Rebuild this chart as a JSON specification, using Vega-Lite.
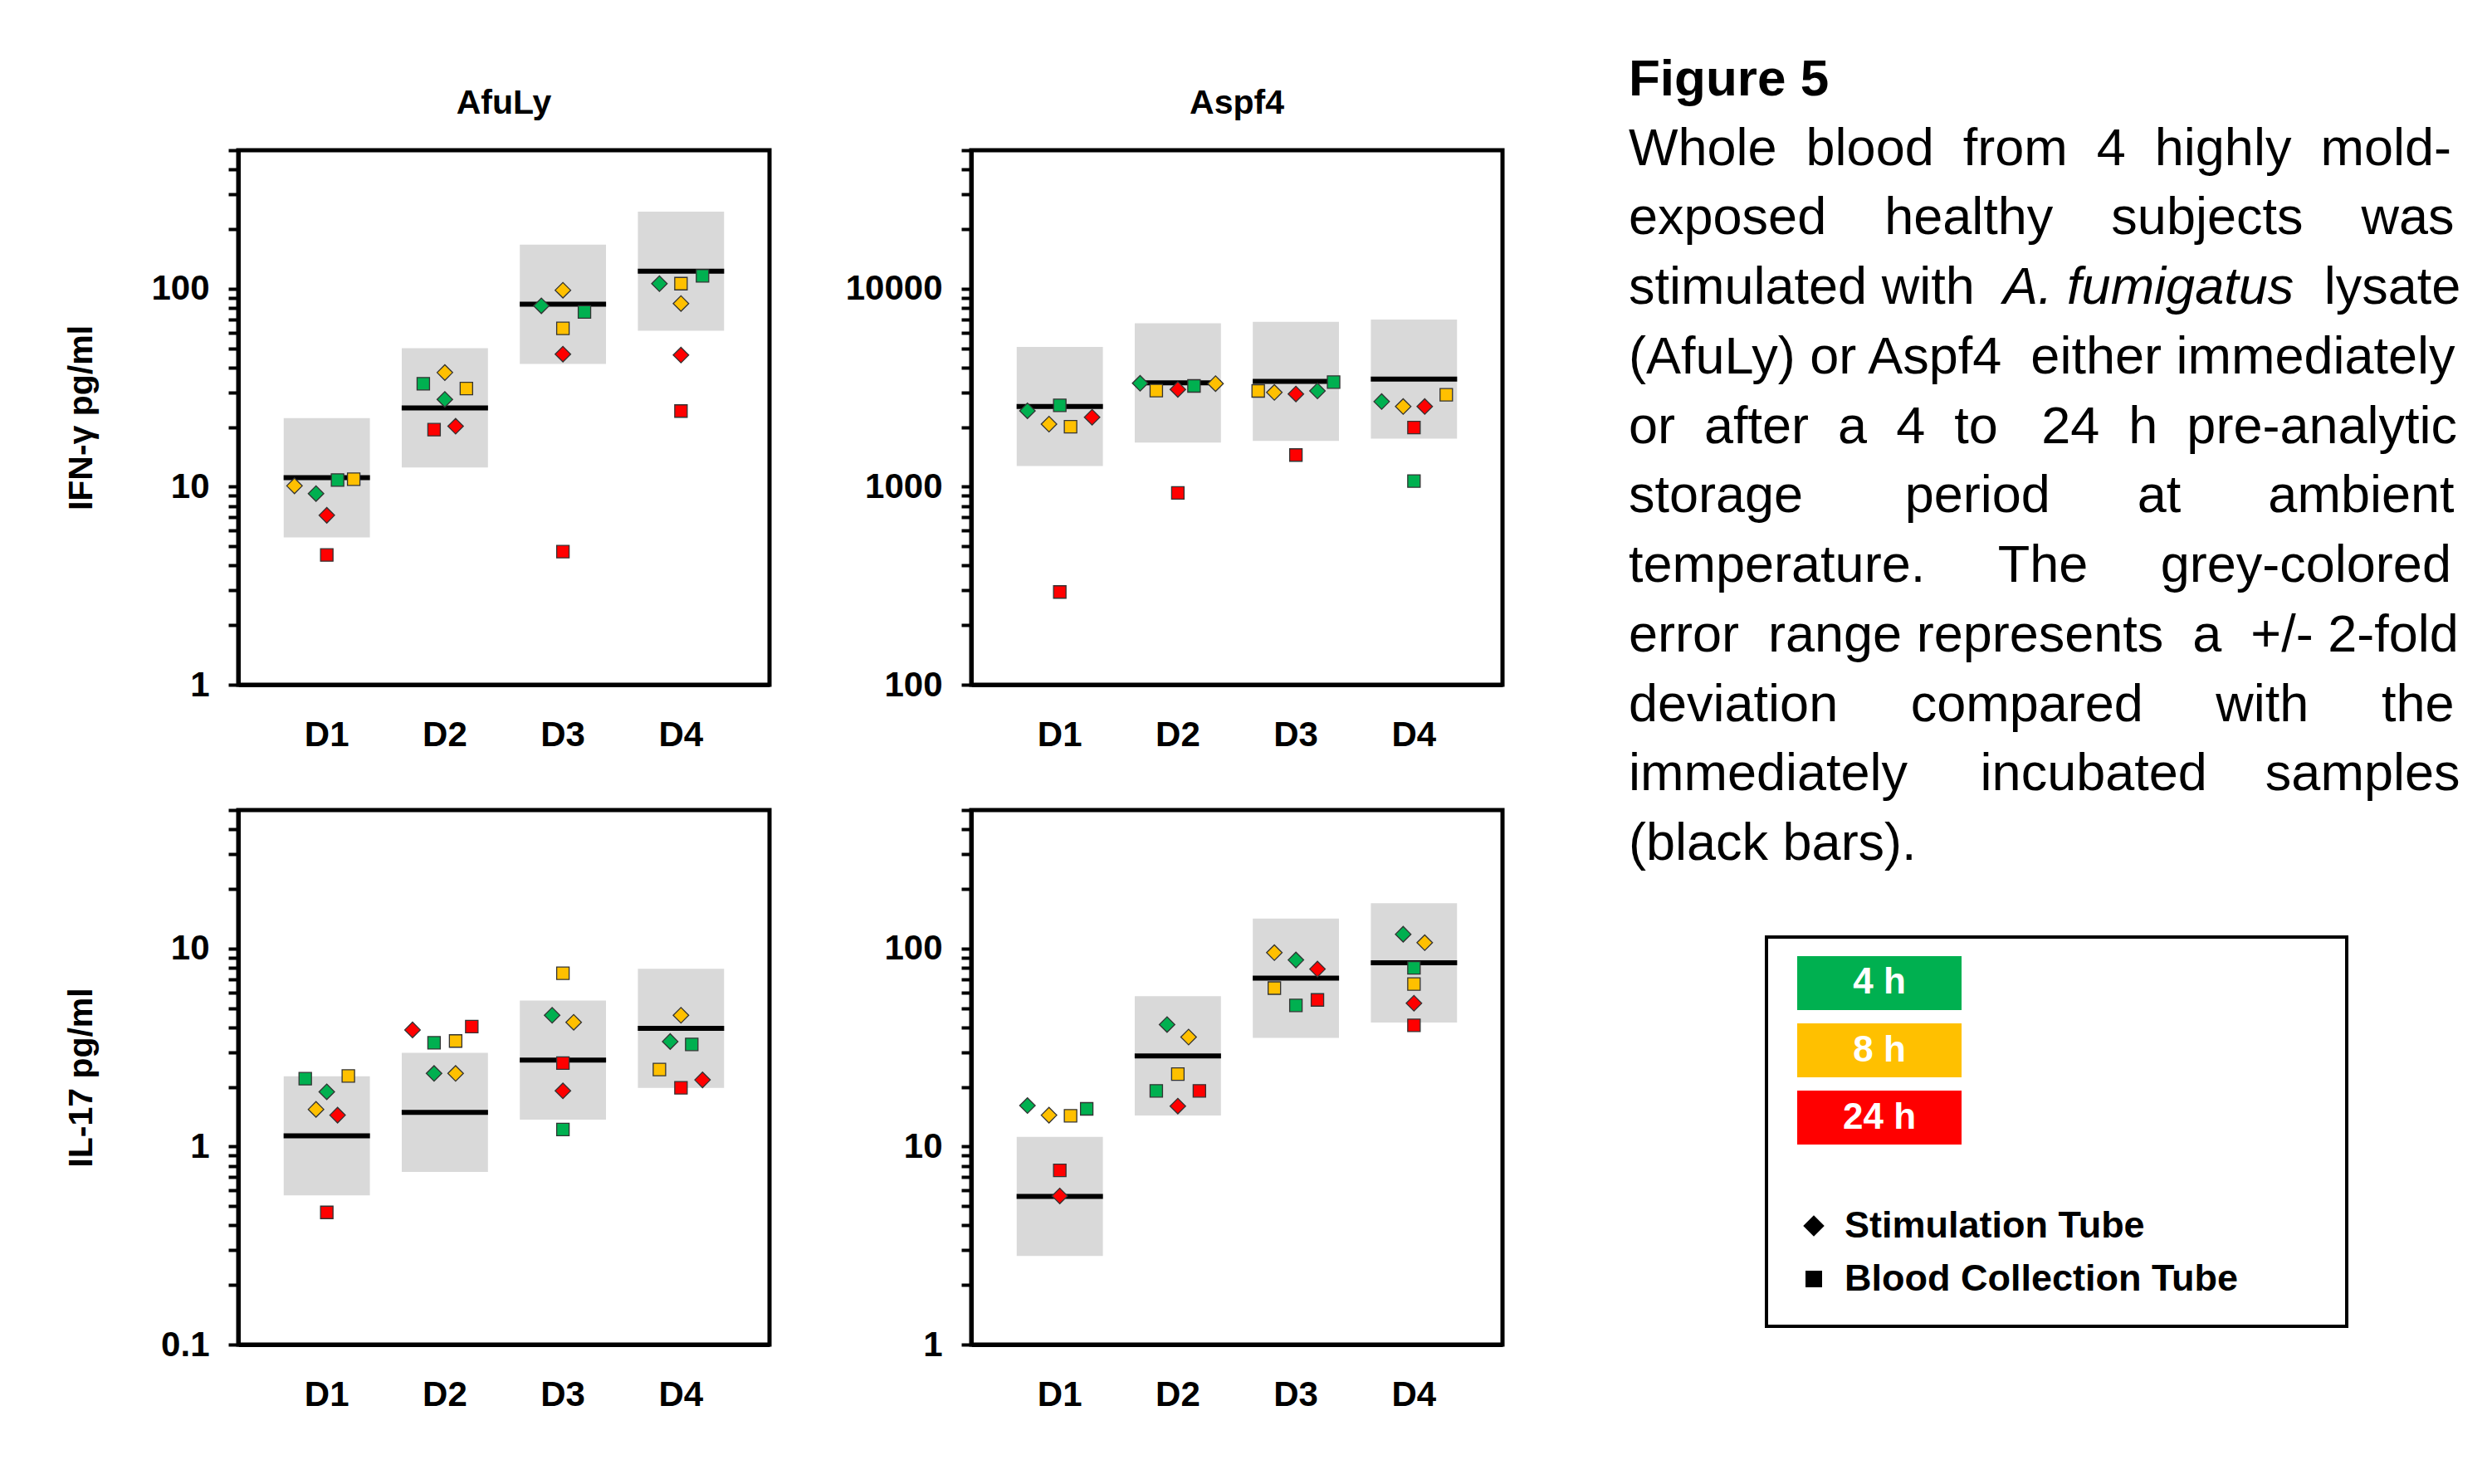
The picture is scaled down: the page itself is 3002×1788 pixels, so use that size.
{
  "$schema": "https://vega.github.io/schema/vega-lite/v6.json",
  "background": "white",
  "padding": {"left": 74, "top": 65, "right": 10, "bottom": 10},
  "config": {
    "font": "Liberation Sans",
    "view": {"stroke": "black", "strokeWidth": 5},
    "axis": {"domainColor": "black", "domainWidth": 5, "tickColor": "black", "labelColor": "black", "titleColor": "black", "grid": false, "labelFont": "Liberation Sans", "titleFont": "Liberation Sans"},
    "title": {"font": "Liberation Sans", "color": "black"}
  },
  "datasets": {
    "points": [
      {"antigen":"AfuLy","cytokine":"IFN","donor":"D1","time":"8 h","tube":"Stimulation Tube","value":10.1,"slot":-6},
      {"antigen":"AfuLy","cytokine":"IFN","donor":"D1","time":"4 h","tube":"Stimulation Tube","value":9.23,"slot":-2},
      {"antigen":"AfuLy","cytokine":"IFN","donor":"D1","time":"24 h","tube":"Stimulation Tube","value":7.17,"slot":0},
      {"antigen":"AfuLy","cytokine":"IFN","donor":"D1","time":"24 h","tube":"Blood Collection Tube","value":4.52,"slot":0},
      {"antigen":"AfuLy","cytokine":"IFN","donor":"D1","time":"4 h","tube":"Blood Collection Tube","value":10.8,"slot":2},
      {"antigen":"AfuLy","cytokine":"IFN","donor":"D1","time":"8 h","tube":"Blood Collection Tube","value":10.9,"slot":5},
      {"antigen":"AfuLy","cytokine":"IFN","donor":"D2","time":"4 h","tube":"Blood Collection Tube","value":33.1,"slot":-4},
      {"antigen":"AfuLy","cytokine":"IFN","donor":"D2","time":"8 h","tube":"Stimulation Tube","value":37.7,"slot":0},
      {"antigen":"AfuLy","cytokine":"IFN","donor":"D2","time":"8 h","tube":"Blood Collection Tube","value":31.3,"slot":4},
      {"antigen":"AfuLy","cytokine":"IFN","donor":"D2","time":"4 h","tube":"Stimulation Tube","value":27.6,"slot":0},
      {"antigen":"AfuLy","cytokine":"IFN","donor":"D2","time":"24 h","tube":"Blood Collection Tube","value":19.4,"slot":-2},
      {"antigen":"AfuLy","cytokine":"IFN","donor":"D2","time":"24 h","tube":"Stimulation Tube","value":20.2,"slot":2},
      {"antigen":"AfuLy","cytokine":"IFN","donor":"D3","time":"8 h","tube":"Stimulation Tube","value":98.2,"slot":0},
      {"antigen":"AfuLy","cytokine":"IFN","donor":"D3","time":"4 h","tube":"Stimulation Tube","value":81.9,"slot":-4},
      {"antigen":"AfuLy","cytokine":"IFN","donor":"D3","time":"4 h","tube":"Blood Collection Tube","value":76.3,"slot":4},
      {"antigen":"AfuLy","cytokine":"IFN","donor":"D3","time":"8 h","tube":"Blood Collection Tube","value":63.0,"slot":0},
      {"antigen":"AfuLy","cytokine":"IFN","donor":"D3","time":"24 h","tube":"Stimulation Tube","value":46.7,"slot":0},
      {"antigen":"AfuLy","cytokine":"IFN","donor":"D3","time":"24 h","tube":"Blood Collection Tube","value":4.70,"slot":0},
      {"antigen":"AfuLy","cytokine":"IFN","donor":"D4","time":"4 h","tube":"Stimulation Tube","value":106,"slot":-4},
      {"antigen":"AfuLy","cytokine":"IFN","donor":"D4","time":"8 h","tube":"Blood Collection Tube","value":106,"slot":0},
      {"antigen":"AfuLy","cytokine":"IFN","donor":"D4","time":"4 h","tube":"Blood Collection Tube","value":116,"slot":4},
      {"antigen":"AfuLy","cytokine":"IFN","donor":"D4","time":"8 h","tube":"Stimulation Tube","value":84.1,"slot":0},
      {"antigen":"AfuLy","cytokine":"IFN","donor":"D4","time":"24 h","tube":"Stimulation Tube","value":46.2,"slot":0},
      {"antigen":"AfuLy","cytokine":"IFN","donor":"D4","time":"24 h","tube":"Blood Collection Tube","value":24.1,"slot":0},

      {"antigen":"Aspf4","cytokine":"IFN","donor":"D1","time":"4 h","tube":"Stimulation Tube","value":2417,"slot":-6},
      {"antigen":"Aspf4","cytokine":"IFN","donor":"D1","time":"4 h","tube":"Blood Collection Tube","value":2573,"slot":0},
      {"antigen":"Aspf4","cytokine":"IFN","donor":"D1","time":"8 h","tube":"Stimulation Tube","value":2070,"slot":-2},
      {"antigen":"Aspf4","cytokine":"IFN","donor":"D1","time":"8 h","tube":"Blood Collection Tube","value":2007,"slot":2},
      {"antigen":"Aspf4","cytokine":"IFN","donor":"D1","time":"24 h","tube":"Stimulation Tube","value":2243,"slot":6},
      {"antigen":"Aspf4","cytokine":"IFN","donor":"D1","time":"24 h","tube":"Blood Collection Tube","value":294,"slot":0},
      {"antigen":"Aspf4","cytokine":"IFN","donor":"D2","time":"4 h","tube":"Stimulation Tube","value":3327,"slot":-7},
      {"antigen":"Aspf4","cytokine":"IFN","donor":"D2","time":"8 h","tube":"Blood Collection Tube","value":3059,"slot":-4},
      {"antigen":"Aspf4","cytokine":"IFN","donor":"D2","time":"24 h","tube":"Stimulation Tube","value":3098,"slot":0},
      {"antigen":"Aspf4","cytokine":"IFN","donor":"D2","time":"4 h","tube":"Blood Collection Tube","value":3226,"slot":3},
      {"antigen":"Aspf4","cytokine":"IFN","donor":"D2","time":"8 h","tube":"Stimulation Tube","value":3314,"slot":7},
      {"antigen":"Aspf4","cytokine":"IFN","donor":"D2","time":"24 h","tube":"Blood Collection Tube","value":931,"slot":0},
      {"antigen":"Aspf4","cytokine":"IFN","donor":"D3","time":"8 h","tube":"Blood Collection Tube","value":3045,"slot":-7},
      {"antigen":"Aspf4","cytokine":"IFN","donor":"D3","time":"8 h","tube":"Stimulation Tube","value":2992,"slot":-4},
      {"antigen":"Aspf4","cytokine":"IFN","donor":"D3","time":"24 h","tube":"Stimulation Tube","value":2939,"slot":0},
      {"antigen":"Aspf4","cytokine":"IFN","donor":"D3","time":"4 h","tube":"Stimulation Tube","value":3045,"slot":4},
      {"antigen":"Aspf4","cytokine":"IFN","donor":"D3","time":"4 h","tube":"Blood Collection Tube","value":3373,"slot":7},
      {"antigen":"Aspf4","cytokine":"IFN","donor":"D3","time":"24 h","tube":"Blood Collection Tube","value":1445,"slot":0},
      {"antigen":"Aspf4","cytokine":"IFN","donor":"D4","time":"4 h","tube":"Stimulation Tube","value":2690,"slot":-6},
      {"antigen":"Aspf4","cytokine":"IFN","donor":"D4","time":"8 h","tube":"Stimulation Tube","value":2539,"slot":-2},
      {"antigen":"Aspf4","cytokine":"IFN","donor":"D4","time":"24 h","tube":"Stimulation Tube","value":2539,"slot":2},
      {"antigen":"Aspf4","cytokine":"IFN","donor":"D4","time":"8 h","tube":"Blood Collection Tube","value":2912,"slot":6},
      {"antigen":"Aspf4","cytokine":"IFN","donor":"D4","time":"24 h","tube":"Blood Collection Tube","value":1990,"slot":0},
      {"antigen":"Aspf4","cytokine":"IFN","donor":"D4","time":"4 h","tube":"Blood Collection Tube","value":1068,"slot":0},

      {"antigen":"AfuLy","cytokine":"IL17","donor":"D1","time":"4 h","tube":"Blood Collection Tube","value":2.20,"slot":-4},
      {"antigen":"AfuLy","cytokine":"IL17","donor":"D1","time":"8 h","tube":"Blood Collection Tube","value":2.27,"slot":4},
      {"antigen":"AfuLy","cytokine":"IL17","donor":"D1","time":"4 h","tube":"Stimulation Tube","value":1.89,"slot":0},
      {"antigen":"AfuLy","cytokine":"IL17","donor":"D1","time":"8 h","tube":"Stimulation Tube","value":1.54,"slot":-2},
      {"antigen":"AfuLy","cytokine":"IL17","donor":"D1","time":"24 h","tube":"Stimulation Tube","value":1.44,"slot":2},
      {"antigen":"AfuLy","cytokine":"IL17","donor":"D1","time":"24 h","tube":"Blood Collection Tube","value":0.465,"slot":0},
      {"antigen":"AfuLy","cytokine":"IL17","donor":"D2","time":"24 h","tube":"Stimulation Tube","value":3.88,"slot":-6},
      {"antigen":"AfuLy","cytokine":"IL17","donor":"D2","time":"4 h","tube":"Blood Collection Tube","value":3.34,"slot":-2},
      {"antigen":"AfuLy","cytokine":"IL17","donor":"D2","time":"8 h","tube":"Blood Collection Tube","value":3.41,"slot":2},
      {"antigen":"AfuLy","cytokine":"IL17","donor":"D2","time":"24 h","tube":"Blood Collection Tube","value":4.03,"slot":5},
      {"antigen":"AfuLy","cytokine":"IL17","donor":"D2","time":"4 h","tube":"Stimulation Tube","value":2.34,"slot":-2},
      {"antigen":"AfuLy","cytokine":"IL17","donor":"D2","time":"8 h","tube":"Stimulation Tube","value":2.34,"slot":2},
      {"antigen":"AfuLy","cytokine":"IL17","donor":"D3","time":"8 h","tube":"Blood Collection Tube","value":7.50,"slot":0},
      {"antigen":"AfuLy","cytokine":"IL17","donor":"D3","time":"4 h","tube":"Stimulation Tube","value":4.60,"slot":-2},
      {"antigen":"AfuLy","cytokine":"IL17","donor":"D3","time":"8 h","tube":"Stimulation Tube","value":4.24,"slot":2},
      {"antigen":"AfuLy","cytokine":"IL17","donor":"D3","time":"24 h","tube":"Blood Collection Tube","value":2.64,"slot":0},
      {"antigen":"AfuLy","cytokine":"IL17","donor":"D3","time":"24 h","tube":"Stimulation Tube","value":1.91,"slot":0},
      {"antigen":"AfuLy","cytokine":"IL17","donor":"D3","time":"4 h","tube":"Blood Collection Tube","value":1.22,"slot":0},
      {"antigen":"AfuLy","cytokine":"IL17","donor":"D4","time":"8 h","tube":"Stimulation Tube","value":4.60,"slot":0},
      {"antigen":"AfuLy","cytokine":"IL17","donor":"D4","time":"4 h","tube":"Stimulation Tube","value":3.39,"slot":-2},
      {"antigen":"AfuLy","cytokine":"IL17","donor":"D4","time":"4 h","tube":"Blood Collection Tube","value":3.28,"slot":2},
      {"antigen":"AfuLy","cytokine":"IL17","donor":"D4","time":"8 h","tube":"Blood Collection Tube","value":2.45,"slot":-4},
      {"antigen":"AfuLy","cytokine":"IL17","donor":"D4","time":"24 h","tube":"Blood Collection Tube","value":1.98,"slot":0},
      {"antigen":"AfuLy","cytokine":"IL17","donor":"D4","time":"24 h","tube":"Stimulation Tube","value":2.17,"slot":4},

      {"antigen":"Aspf4","cytokine":"IL17","donor":"D1","time":"4 h","tube":"Stimulation Tube","value":16.1,"slot":-6},
      {"antigen":"Aspf4","cytokine":"IL17","donor":"D1","time":"8 h","tube":"Stimulation Tube","value":14.4,"slot":-2},
      {"antigen":"Aspf4","cytokine":"IL17","donor":"D1","time":"8 h","tube":"Blood Collection Tube","value":14.3,"slot":2},
      {"antigen":"Aspf4","cytokine":"IL17","donor":"D1","time":"4 h","tube":"Blood Collection Tube","value":15.5,"slot":5},
      {"antigen":"Aspf4","cytokine":"IL17","donor":"D1","time":"24 h","tube":"Blood Collection Tube","value":7.58,"slot":0},
      {"antigen":"Aspf4","cytokine":"IL17","donor":"D1","time":"24 h","tube":"Stimulation Tube","value":5.63,"slot":0},
      {"antigen":"Aspf4","cytokine":"IL17","donor":"D2","time":"4 h","tube":"Stimulation Tube","value":41.3,"slot":-2},
      {"antigen":"Aspf4","cytokine":"IL17","donor":"D2","time":"8 h","tube":"Stimulation Tube","value":35.7,"slot":2},
      {"antigen":"Aspf4","cytokine":"IL17","donor":"D2","time":"8 h","tube":"Blood Collection Tube","value":23.2,"slot":0},
      {"antigen":"Aspf4","cytokine":"IL17","donor":"D2","time":"4 h","tube":"Blood Collection Tube","value":19.1,"slot":-4},
      {"antigen":"Aspf4","cytokine":"IL17","donor":"D2","time":"24 h","tube":"Blood Collection Tube","value":19.1,"slot":4},
      {"antigen":"Aspf4","cytokine":"IL17","donor":"D2","time":"24 h","tube":"Stimulation Tube","value":16.0,"slot":0},
      {"antigen":"Aspf4","cytokine":"IL17","donor":"D3","time":"8 h","tube":"Stimulation Tube","value":95.3,"slot":-4},
      {"antigen":"Aspf4","cytokine":"IL17","donor":"D3","time":"4 h","tube":"Stimulation Tube","value":87.5,"slot":0},
      {"antigen":"Aspf4","cytokine":"IL17","donor":"D3","time":"24 h","tube":"Stimulation Tube","value":78.7,"slot":4},
      {"antigen":"Aspf4","cytokine":"IL17","donor":"D3","time":"8 h","tube":"Blood Collection Tube","value":63.1,"slot":-4},
      {"antigen":"Aspf4","cytokine":"IL17","donor":"D3","time":"4 h","tube":"Blood Collection Tube","value":51.6,"slot":0},
      {"antigen":"Aspf4","cytokine":"IL17","donor":"D3","time":"24 h","tube":"Blood Collection Tube","value":55.0,"slot":4},
      {"antigen":"Aspf4","cytokine":"IL17","donor":"D4","time":"4 h","tube":"Stimulation Tube","value":118,"slot":-2},
      {"antigen":"Aspf4","cytokine":"IL17","donor":"D4","time":"8 h","tube":"Stimulation Tube","value":107,"slot":2},
      {"antigen":"Aspf4","cytokine":"IL17","donor":"D4","time":"4 h","tube":"Blood Collection Tube","value":79.9,"slot":0},
      {"antigen":"Aspf4","cytokine":"IL17","donor":"D4","time":"8 h","tube":"Blood Collection Tube","value":66.2,"slot":0},
      {"antigen":"Aspf4","cytokine":"IL17","donor":"D4","time":"24 h","tube":"Stimulation Tube","value":52.9,"slot":0},
      {"antigen":"Aspf4","cytokine":"IL17","donor":"D4","time":"24 h","tube":"Blood Collection Tube","value":40.9,"slot":0}
    ],
    "refs": [
      {"antigen":"AfuLy","cytokine":"IFN","donor":"D1","ref":11.1,"low":5.55,"high":22.2},
      {"antigen":"AfuLy","cytokine":"IFN","donor":"D2","ref":25.0,"low":12.5,"high":50.0},
      {"antigen":"AfuLy","cytokine":"IFN","donor":"D3","ref":83.4,"low":41.7,"high":166.8},
      {"antigen":"AfuLy","cytokine":"IFN","donor":"D4","ref":122.6,"low":61.3,"high":245},
      {"antigen":"Aspf4","cytokine":"IFN","donor":"D1","ref":2539,"low":1270,"high":5078},
      {"antigen":"Aspf4","cytokine":"IFN","donor":"D2","ref":3342,"low":1671,"high":6684},
      {"antigen":"Aspf4","cytokine":"IFN","donor":"D3","ref":3403,"low":1702,"high":6806},
      {"antigen":"Aspf4","cytokine":"IFN","donor":"D4","ref":3494,"low":1747,"high":6988},
      {"antigen":"AfuLy","cytokine":"IL17","donor":"D1","ref":1.132,"low":0.566,"high":2.264},
      {"antigen":"AfuLy","cytokine":"IL17","donor":"D2","ref":1.488,"low":0.744,"high":2.976},
      {"antigen":"AfuLy","cytokine":"IL17","donor":"D3","ref":2.733,"low":1.366,"high":5.466},
      {"antigen":"AfuLy","cytokine":"IL17","donor":"D4","ref":3.95,"low":1.975,"high":7.9},
      {"antigen":"Aspf4","cytokine":"IL17","donor":"D1","ref":5.60,"low":2.80,"high":11.2},
      {"antigen":"Aspf4","cytokine":"IL17","donor":"D2","ref":28.7,"low":14.35,"high":57.4},
      {"antigen":"Aspf4","cytokine":"IL17","donor":"D3","ref":70.8,"low":35.4,"high":141.6},
      {"antigen":"Aspf4","cytokine":"IL17","donor":"D4","ref":84.6,"low":42.3,"high":169.2}
    ],
    "caption": [
      {"line":0,"col":0,"part":"head","text":"Figure 5"},
      {"line":1,"col":0,"part":"body","text":"Whole\u00a0\u00a0blood\u00a0\u00a0from\u00a0\u00a04\u00a0\u00a0highly\u00a0\u00a0mold-"},
      {"line":2,"col":0,"part":"body","text":"exposed\u00a0\u00a0\u00a0\u00a0healthy\u00a0\u00a0\u00a0\u00a0subjects\u00a0\u00a0\u00a0\u00a0was"},
      {"line":3,"col":0,"part":"body","text":"stimulated with"},
      {"line":3,"col":7,"part":"italic","text":"A. fumigatus"},
      {"line":3,"col":13,"part":"body","text":"lysate"},
      {"line":4,"col":0,"part":"body","text":"(AfuLy) or Aspf4\u00a0\u00a0either immediately"},
      {"line":5,"col":0,"part":"body","text":"or\u00a0\u00a0after\u00a0\u00a0a\u00a0\u00a04\u00a0\u00a0to\u00a0\u00a0\u00a024\u00a0\u00a0h\u00a0\u00a0pre-analytic"},
      {"line":6,"col":0,"part":"body","text":"storage\u00a0\u00a0\u00a0\u00a0\u00a0\u00a0\u00a0period\u00a0\u00a0\u00a0\u00a0\u00a0\u00a0at\u00a0\u00a0\u00a0\u00a0\u00a0\u00a0ambient"},
      {"line":7,"col":0,"part":"body","text":"temperature.\u00a0\u00a0\u00a0\u00a0\u00a0The\u00a0\u00a0\u00a0\u00a0\u00a0grey-colored"},
      {"line":8,"col":0,"part":"body","text":"error\u00a0\u00a0range represents\u00a0\u00a0a\u00a0\u00a0+/- 2-fold"},
      {"line":9,"col":0,"part":"body","text":"deviation\u00a0\u00a0\u00a0\u00a0\u00a0compared\u00a0\u00a0\u00a0\u00a0\u00a0with\u00a0\u00a0\u00a0\u00a0\u00a0the"},
      {"line":10,"col":0,"part":"body","text":"immediately\u00a0\u00a0\u00a0\u00a0\u00a0incubated\u00a0\u00a0\u00a0\u00a0samples"},
      {"line":11,"col":0,"part":"body","text":"(black bars)."}
    ],
    "legendTimes": [{"time":"4 h"},{"time":"8 h"},{"time":"24 h"}],
    "legendTubes": [{"tube":"Stimulation Tube"},{"tube":"Blood Collection Tube"}]
  },
  "hconcat": [
    {
      "concat": [
        {
          "width": 640, "height": 644,
          "title": {"text": "AfuLy", "fontSize": 41, "fontWeight": "bold", "baseline": "alphabetic", "offset": 1, "frame": "group"},
          "resolve": {"scale": {"xOffset": "independent"}},
          "layer": [
            {"data": {"name": "refs"}, "transform": [{"filter": "datum.antigen === 'AfuLy' && datum.cytokine === 'IFN'"}],
             "mark": {"type": "bar", "color": "#D9D9D9"},
             "encoding": {
               "x": {"field": "donor", "type": "nominal", "scale": {"domain": ["D1","D2","D3","D4"], "paddingInner": 0.27, "paddingOuter": 0.385},
                     "axis": {"title": null, "ticks": false, "tickSize": 0, "labelAngle": 0, "labelFontSize": 42, "labelFontWeight": "bold", "labelPadding": 40}},
               "y": {"field": "low", "type": "quantitative", "scale": {"type": "log", "domain": [1, 500], "nice": false},
                     "axis": {"values": [1,2,3,4,5,6,7,8,9,10,20,30,40,50,60,70,80,90,100,200,300,400,500],
                              "labelExpr": "indexof([0.1,1,10,100,1000,10000], datum.value) >= 0 ? format(datum.value, '~g') : ''",
                              "tickSize": 12, "tickWidth": 4, "labelFontSize": 42, "labelFontWeight": "bold", "labelPadding": 23,
                              "title": "IFN-γ pg/ml", "titleFontSize": 41, "titleFontWeight": "bold", "titleX": -177, "titleY": 322, "titleAngle": -90, "titleBaseline": "alphabetic", "titleAlign": "center"}},
               "y2": {"field": "high"}
             }},
            {"data": {"name": "refs"}, "transform": [{"filter": "datum.antigen === 'AfuLy' && datum.cytokine === 'IFN'"}],
             "mark": {"type": "tick", "color": "black", "thickness": 6, "size": 104, "opacity": 1},
             "encoding": {"x": {"field": "donor", "type": "nominal"}, "y": {"field": "ref", "type": "quantitative"}}},
            {"data": {"name": "points"}, "transform": [{"filter": "datum.antigen === 'AfuLy' && datum.cytokine === 'IFN' && datum.tube === 'Stimulation Tube'"}],
             "mark": {"type": "point", "shape": "diamond", "size": 350, "filled": true, "stroke": "#333333", "strokeWidth": 1.3, "opacity": 1},
             "encoding": {"x": {"field": "donor", "type": "nominal"},
               "xOffset": {"field": "slot", "type": "ordinal", "scale": {"domain": [-8,-7,-6,-5,-4,-3,-2,-1,0,1,2,3,4,5,6,7,8], "paddingInner": 0, "paddingOuter": 0}},
               "y": {"field": "value", "type": "quantitative"},
               "color": {"field": "time", "type": "nominal", "scale": {"domain": ["4 h","8 h","24 h"], "range": ["#00B050","#FFC000","#FF0000"]}, "legend": null}}},
            {"data": {"name": "points"}, "transform": [{"filter": "datum.antigen === 'AfuLy' && datum.cytokine === 'IFN' && datum.tube === 'Blood Collection Tube'"}],
             "mark": {"type": "point", "shape": "square", "size": 225, "filled": true, "stroke": "#333333", "strokeWidth": 1.3, "opacity": 1},
             "encoding": {"x": {"field": "donor", "type": "nominal"},
               "xOffset": {"field": "slot", "type": "ordinal", "scale": {"domain": [-8,-7,-6,-5,-4,-3,-2,-1,0,1,2,3,4,5,6,7,8], "paddingInner": 0, "paddingOuter": 0}},
               "y": {"field": "value", "type": "quantitative"},
               "color": {"field": "time", "type": "nominal", "scale": {"domain": ["4 h","8 h","24 h"], "range": ["#00B050","#FFC000","#FF0000"]}, "legend": null}}}
          ]
        },
        {
          "width": 640, "height": 644,
          "title": {"text": "Aspf4", "fontSize": 41, "fontWeight": "bold", "baseline": "alphabetic", "offset": 1, "frame": "group"},
          "resolve": {"scale": {"xOffset": "independent"}},
          "layer": [
            {"data": {"name": "refs"}, "transform": [{"filter": "datum.antigen === 'Aspf4' && datum.cytokine === 'IFN'"}],
             "mark": {"type": "bar", "color": "#D9D9D9"},
             "encoding": {
               "x": {"field": "donor", "type": "nominal", "scale": {"domain": ["D1","D2","D3","D4"], "paddingInner": 0.27, "paddingOuter": 0.385},
                     "axis": {"title": null, "ticks": false, "tickSize": 0, "labelAngle": 0, "labelFontSize": 42, "labelFontWeight": "bold", "labelPadding": 40}},
               "y": {"field": "low", "type": "quantitative", "scale": {"type": "log", "domain": [100, 50000], "nice": false},
                     "axis": {"values": [100,200,300,400,500,600,700,800,900,1000,2000,3000,4000,5000,6000,7000,8000,9000,10000,20000,30000,40000,50000],
                              "labelExpr": "indexof([0.1,1,10,100,1000,10000], datum.value) >= 0 ? format(datum.value, '~g') : ''",
                              "tickSize": 12, "tickWidth": 4, "labelFontSize": 42, "labelFontWeight": "bold", "labelPadding": 23, "title": null}},
               "y2": {"field": "high"}
             }},
            {"data": {"name": "refs"}, "transform": [{"filter": "datum.antigen === 'Aspf4' && datum.cytokine === 'IFN'"}],
             "mark": {"type": "tick", "color": "black", "thickness": 6, "size": 104, "opacity": 1},
             "encoding": {"x": {"field": "donor", "type": "nominal"}, "y": {"field": "ref", "type": "quantitative"}}},
            {"data": {"name": "points"}, "transform": [{"filter": "datum.antigen === 'Aspf4' && datum.cytokine === 'IFN' && datum.tube === 'Stimulation Tube'"}],
             "mark": {"type": "point", "shape": "diamond", "size": 350, "filled": true, "stroke": "#333333", "strokeWidth": 1.3, "opacity": 1},
             "encoding": {"x": {"field": "donor", "type": "nominal"},
               "xOffset": {"field": "slot", "type": "ordinal", "scale": {"domain": [-8,-7,-6,-5,-4,-3,-2,-1,0,1,2,3,4,5,6,7,8], "paddingInner": 0, "paddingOuter": 0}},
               "y": {"field": "value", "type": "quantitative"},
               "color": {"field": "time", "type": "nominal", "scale": {"domain": ["4 h","8 h","24 h"], "range": ["#00B050","#FFC000","#FF0000"]}, "legend": null}}},
            {"data": {"name": "points"}, "transform": [{"filter": "datum.antigen === 'Aspf4' && datum.cytokine === 'IFN' && datum.tube === 'Blood Collection Tube'"}],
             "mark": {"type": "point", "shape": "square", "size": 225, "filled": true, "stroke": "#333333", "strokeWidth": 1.3, "opacity": 1},
             "encoding": {"x": {"field": "donor", "type": "nominal"},
               "xOffset": {"field": "slot", "type": "ordinal", "scale": {"domain": [-8,-7,-6,-5,-4,-3,-2,-1,0,1,2,3,4,5,6,7,8], "paddingInner": 0, "paddingOuter": 0}},
               "y": {"field": "value", "type": "quantitative"},
               "color": {"field": "time", "type": "nominal", "scale": {"domain": ["4 h","8 h","24 h"], "range": ["#00B050","#FFC000","#FF0000"]}, "legend": null}}}
          ]
        },
        {
          "width": 640, "height": 644,
          "resolve": {"scale": {"xOffset": "independent"}},
          "layer": [
            {"data": {"name": "refs"}, "transform": [{"filter": "datum.antigen === 'AfuLy' && datum.cytokine === 'IL17'"}],
             "mark": {"type": "bar", "color": "#D9D9D9"},
             "encoding": {
               "x": {"field": "donor", "type": "nominal", "scale": {"domain": ["D1","D2","D3","D4"], "paddingInner": 0.27, "paddingOuter": 0.385},
                     "axis": {"title": null, "ticks": false, "tickSize": 0, "labelAngle": 0, "labelFontSize": 42, "labelFontWeight": "bold", "labelPadding": 40}},
               "y": {"field": "low", "type": "quantitative", "scale": {"type": "log", "domain": [0.1, 50], "nice": false},
                     "axis": {"values": [0.1,0.2,0.3,0.4,0.5,0.6,0.7,0.8,0.9,1,2,3,4,5,6,7,8,9,10,20,30,40,50],
                              "labelExpr": "indexof([0.1,1,10,100,1000,10000], datum.value) >= 0 ? format(datum.value, '~g') : ''",
                              "tickSize": 12, "tickWidth": 4, "labelFontSize": 42, "labelFontWeight": "bold", "labelPadding": 23,
                              "title": "IL-17 pg/ml", "titleFontSize": 41, "titleFontWeight": "bold", "titleX": -177, "titleY": 322, "titleAngle": -90, "titleBaseline": "alphabetic", "titleAlign": "center"}},
               "y2": {"field": "high"}
             }},
            {"data": {"name": "refs"}, "transform": [{"filter": "datum.antigen === 'AfuLy' && datum.cytokine === 'IL17'"}],
             "mark": {"type": "tick", "color": "black", "thickness": 6, "size": 104, "opacity": 1},
             "encoding": {"x": {"field": "donor", "type": "nominal"}, "y": {"field": "ref", "type": "quantitative"}}},
            {"data": {"name": "points"}, "transform": [{"filter": "datum.antigen === 'AfuLy' && datum.cytokine === 'IL17' && datum.tube === 'Stimulation Tube'"}],
             "mark": {"type": "point", "shape": "diamond", "size": 350, "filled": true, "stroke": "#333333", "strokeWidth": 1.3, "opacity": 1},
             "encoding": {"x": {"field": "donor", "type": "nominal"},
               "xOffset": {"field": "slot", "type": "ordinal", "scale": {"domain": [-8,-7,-6,-5,-4,-3,-2,-1,0,1,2,3,4,5,6,7,8], "paddingInner": 0, "paddingOuter": 0}},
               "y": {"field": "value", "type": "quantitative"},
               "color": {"field": "time", "type": "nominal", "scale": {"domain": ["4 h","8 h","24 h"], "range": ["#00B050","#FFC000","#FF0000"]}, "legend": null}}},
            {"data": {"name": "points"}, "transform": [{"filter": "datum.antigen === 'AfuLy' && datum.cytokine === 'IL17' && datum.tube === 'Blood Collection Tube'"}],
             "mark": {"type": "point", "shape": "square", "size": 225, "filled": true, "stroke": "#333333", "strokeWidth": 1.3, "opacity": 1},
             "encoding": {"x": {"field": "donor", "type": "nominal"},
               "xOffset": {"field": "slot", "type": "ordinal", "scale": {"domain": [-8,-7,-6,-5,-4,-3,-2,-1,0,1,2,3,4,5,6,7,8], "paddingInner": 0, "paddingOuter": 0}},
               "y": {"field": "value", "type": "quantitative"},
               "color": {"field": "time", "type": "nominal", "scale": {"domain": ["4 h","8 h","24 h"], "range": ["#00B050","#FFC000","#FF0000"]}, "legend": null}}}
          ]
        },
        {
          "width": 640, "height": 644,
          "resolve": {"scale": {"xOffset": "independent"}},
          "layer": [
            {"data": {"name": "refs"}, "transform": [{"filter": "datum.antigen === 'Aspf4' && datum.cytokine === 'IL17'"}],
             "mark": {"type": "bar", "color": "#D9D9D9"},
             "encoding": {
               "x": {"field": "donor", "type": "nominal", "scale": {"domain": ["D1","D2","D3","D4"], "paddingInner": 0.27, "paddingOuter": 0.385},
                     "axis": {"title": null, "ticks": false, "tickSize": 0, "labelAngle": 0, "labelFontSize": 42, "labelFontWeight": "bold", "labelPadding": 40}},
               "y": {"field": "low", "type": "quantitative", "scale": {"type": "log", "domain": [1, 500], "nice": false},
                     "axis": {"values": [1,2,3,4,5,6,7,8,9,10,20,30,40,50,60,70,80,90,100,200,300,400,500],
                              "labelExpr": "indexof([0.1,1,10,100,1000,10000], datum.value) >= 0 ? format(datum.value, '~g') : ''",
                              "tickSize": 12, "tickWidth": 4, "labelFontSize": 42, "labelFontWeight": "bold", "labelPadding": 23, "title": null}},
               "y2": {"field": "high"}
             }},
            {"data": {"name": "refs"}, "transform": [{"filter": "datum.antigen === 'Aspf4' && datum.cytokine === 'IL17'"}],
             "mark": {"type": "tick", "color": "black", "thickness": 6, "size": 104, "opacity": 1},
             "encoding": {"x": {"field": "donor", "type": "nominal"}, "y": {"field": "ref", "type": "quantitative"}}},
            {"data": {"name": "points"}, "transform": [{"filter": "datum.antigen === 'Aspf4' && datum.cytokine === 'IL17' && datum.tube === 'Stimulation Tube'"}],
             "mark": {"type": "point", "shape": "diamond", "size": 350, "filled": true, "stroke": "#333333", "strokeWidth": 1.3, "opacity": 1},
             "encoding": {"x": {"field": "donor", "type": "nominal"},
               "xOffset": {"field": "slot", "type": "ordinal", "scale": {"domain": [-8,-7,-6,-5,-4,-3,-2,-1,0,1,2,3,4,5,6,7,8], "paddingInner": 0, "paddingOuter": 0}},
               "y": {"field": "value", "type": "quantitative"},
               "color": {"field": "time", "type": "nominal", "scale": {"domain": ["4 h","8 h","24 h"], "range": ["#00B050","#FFC000","#FF0000"]}, "legend": null}}},
            {"data": {"name": "points"}, "transform": [{"filter": "datum.antigen === 'Aspf4' && datum.cytokine === 'IL17' && datum.tube === 'Blood Collection Tube'"}],
             "mark": {"type": "point", "shape": "square", "size": 225, "filled": true, "stroke": "#333333", "strokeWidth": 1.3, "opacity": 1},
             "encoding": {"x": {"field": "donor", "type": "nominal"},
               "xOffset": {"field": "slot", "type": "ordinal", "scale": {"domain": [-8,-7,-6,-5,-4,-3,-2,-1,0,1,2,3,4,5,6,7,8], "paddingInner": 0, "paddingOuter": 0}},
               "y": {"field": "value", "type": "quantitative"},
               "color": {"field": "time", "type": "nominal", "scale": {"domain": ["4 h","8 h","24 h"], "range": ["#00B050","#FFC000","#FF0000"]}, "legend": null}}}
          ]
        }
      ],
      "columns": 2,
      "spacing": {"row": 151, "column": 243},
      "bounds": "flush"
    },
    {
      "vconcat": [
        {
          "width": 1031, "height": 921,
          "view": {"stroke": null},
          "data": {"name": "caption"},
          "encoding": {
            "x": {"field": "col", "type": "quantitative", "scale": {"domain": [0, 16]}, "axis": null},
            "y": {"field": "line", "type": "quantitative", "scale": {"domain": [0, 11], "reverse": true}, "axis": null},
            "text": {"field": "text"}
          },
          "layer": [
            {"transform": [{"filter": "datum.part === 'body'"}],
             "mark": {"type": "text", "align": "left", "baseline": "alphabetic", "dy": -66, "fontSize": 63, "color": "black"}},
            {"transform": [{"filter": "datum.part === 'italic'"}],
             "mark": {"type": "text", "align": "left", "baseline": "alphabetic", "dy": -66, "fontSize": 63, "fontStyle": "italic", "color": "black"}},
            {"transform": [{"filter": "datum.part === 'head'"}],
             "mark": {"type": "text", "align": "left", "baseline": "alphabetic", "dy": -66, "fontSize": 62, "fontWeight": "bold", "color": "black"}}
          ]
        },
        {
          "width": 699, "height": 469,
          "view": {"stroke": "black", "strokeWidth": 4},
          "resolve": {"scale": {"x": "independent", "y": "independent", "color": "independent"}},
          "layer": [
            {"data": {"name": "legendTimes"},
             "mark": {"type": "point", "shape": "M-1,-0.3283L1,-0.3283L1,0.3283L-1,0.3283Z", "size": 39204, "filled": true, "opacity": 1, "strokeWidth": 0},
             "encoding": {
               "y": {"field": "time", "type": "nominal", "scale": {"type": "band", "domain": ["4 h","8 h","24 h"], "range": [23, 250], "paddingInner": 0.2, "paddingOuter": 0}, "axis": null},
               "x": {"datum": "swatch", "type": "nominal", "scale": {"type": "point", "domain": ["swatch","end"], "range": [136, 235], "padding": 0}, "axis": null},
               "color": {"field": "time", "type": "nominal", "scale": {"domain": ["4 h","8 h","24 h"], "range": ["#00B050","#FFC000","#FF0000"]}, "legend": null}
             }},
            {"data": {"name": "legendTimes"},
             "mark": {"type": "text", "color": "white", "fontSize": 44, "fontWeight": "bold", "align": "center", "baseline": "middle"},
             "encoding": {
               "y": {"field": "time", "type": "nominal", "scale": {"type": "band", "domain": ["4 h","8 h","24 h"], "range": [23, 250], "paddingInner": 0.2, "paddingOuter": 0}, "axis": null},
               "x": {"datum": "swatch", "type": "nominal", "scale": {"type": "point", "domain": ["swatch","end"], "range": [136, 235], "padding": 0}, "axis": null},
               "text": {"field": "time"}
             }},
            {"data": {"name": "legendTubes"}, "transform": [{"filter": "datum.tube === 'Stimulation Tube'"}],
             "mark": {"type": "point", "shape": "diamond", "size": 650, "filled": true, "color": "black", "opacity": 1},
             "encoding": {
               "y": {"field": "tube", "type": "nominal", "scale": {"type": "point", "domain": ["Stimulation Tube","Blood Collection Tube"], "range": [348, 412], "padding": 0}, "axis": null},
               "x": {"datum": "symbol", "type": "nominal", "scale": {"type": "point", "domain": ["symbol","label"], "range": [57, 94], "padding": 0}, "axis": null}
             }},
            {"data": {"name": "legendTubes"}, "transform": [{"filter": "datum.tube === 'Blood Collection Tube'"}],
             "mark": {"type": "point", "shape": "square", "size": 400, "filled": true, "color": "black", "opacity": 1},
             "encoding": {
               "y": {"field": "tube", "type": "nominal", "scale": {"type": "point", "domain": ["Stimulation Tube","Blood Collection Tube"], "range": [348, 412], "padding": 0}, "axis": null},
               "x": {"datum": "symbol", "type": "nominal", "scale": {"type": "point", "domain": ["symbol","label"], "range": [57, 94], "padding": 0}, "axis": null}
             }},
            {"data": {"name": "legendTubes"},
             "mark": {"type": "text", "align": "left", "baseline": "middle", "fontSize": 45, "fontWeight": "bold", "color": "black"},
             "encoding": {
               "y": {"field": "tube", "type": "nominal", "scale": {"type": "point", "domain": ["Stimulation Tube","Blood Collection Tube"], "range": [348, 412], "padding": 0}, "axis": null},
               "x": {"datum": "label", "type": "nominal", "scale": {"type": "point", "domain": ["symbol","label"], "range": [57, 94], "padding": 0}, "axis": null},
               "text": {"field": "tube"}
             }}
          ]
        }
      ],
      "spacing": 27,
      "center": true,
      "bounds": "flush"
    }
  ],
  "spacing": 149
}
